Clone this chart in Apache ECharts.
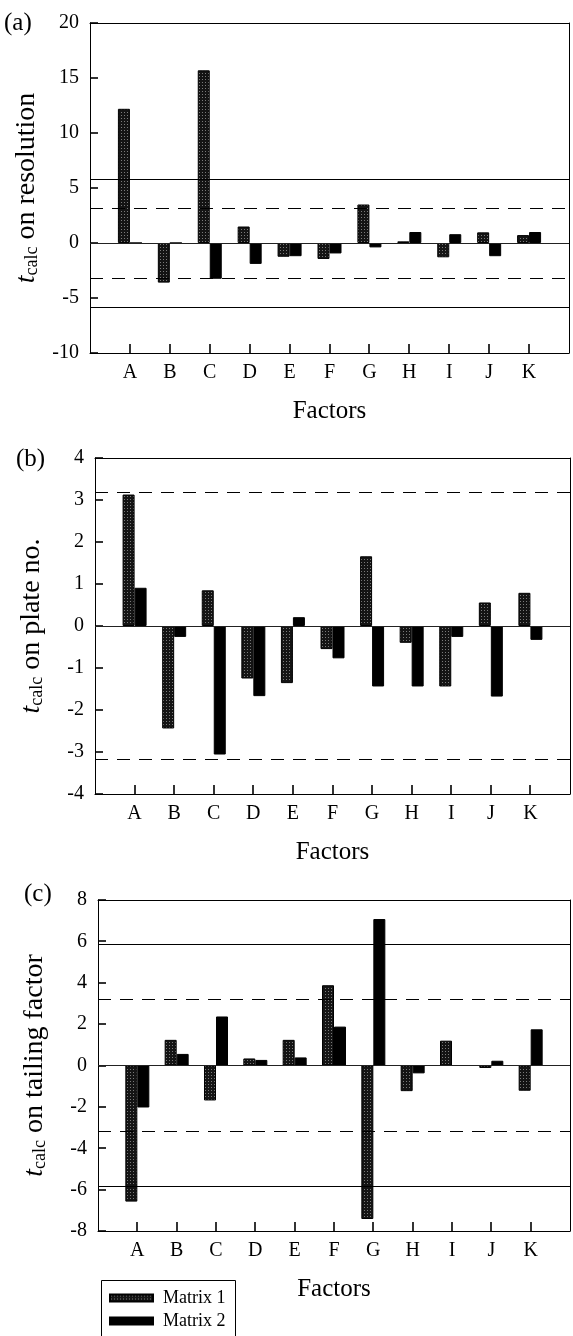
<!DOCTYPE html>
<html>
<head>
<meta charset="utf-8">
<script src="https://cdn.jsdelivr.net/npm/echarts@6/dist/echarts.min.js"></script>
<style>
  html, body { margin: 0; padding: 0; background: #fff; }
  #chart { width: 573px; height: 1336px; }
</style>
</head>
<body>
<div id="chart"></div>
<script>
// Factors studied in the robustness test
const factors = ['A', 'B', 'C', 'D', 'E', 'F', 'G', 'H', 'I', 'J', 'K'];

// t_calc on resolution
const resolutionM1 = [12.2, -3.6, 15.7, 1.5, -1.25, -1.45, 3.5, 0.15, -1.3, 0.97, 0.72];
const resolutionM2 = [0, 0, -3.25, -1.9, -1.2, -0.95, -0.4, 1.0, 0.8, -1.2, 1.0];

// t_calc on plate number
const plateM1 = [3.13, -2.44, 0.85, -1.25, -1.36, -0.55, 1.66, -0.4, -1.44, 0.56, 0.79];
const plateM2 = [0.91, -0.26, -3.06, -1.67, 0.21, -0.77, -1.44, -1.44, -0.26, -1.68, -0.33];

// t_calc on tailing factor
const tailingM1 = [-6.58, 1.24, -1.69, 0.34, 1.24, 3.88, -7.42, -1.24, 1.2, -0.12, -1.22];
const tailingM2 = [-2.03, 0.56, 2.37, 0.27, 0.39, 1.88, 7.08, -0.38, 0, 0.23, 1.75];

// Critical t values (dashed: alpha 0.05, solid: alpha 0.01)
const tCritDashed = 3.182;
const tCritSolid = 5.841;

// Y-axis ranges and tick steps per panel
const yMin = [-10, -4, -8];
const yMax = [20, 4, 8];
const yStep = [5, 1, 2];

const panelTags = ['(a)', '(b)', '(c)'];
const panelTitles = ['on resolution', 'on plate no.', 'on tailing factor'];

const FONT = '"Liberation Serif", "Times New Roman", serif';

// Stippled fill for Matrix 1 bars
function stipple() {
  const c = document.createElement('canvas');
  c.width = 3; c.height = 3;
  const g = c.getContext('2d');
  g.fillStyle = '#141414';
  g.fillRect(0, 0, 3, 3);
  g.fillStyle = '#7a7a7a';
  g.fillRect(1, 1, 1, 1);
  return c;
}
const stipplePattern = { image: stipple(), repeat: 'repeat' };

// Factor k sits at position k+1 on a 0..12 axis, leaving one empty step at each end
const toPoints = arr => arr.map((v, k) => [k + 1, v]);
const factorLabel = v => factors[v - 1] || '';
const factorPositions = factors.map((f, k) => [k + 1]);

// Value-axis tick positions of a panel
function yTickValues(i) {
  const out = [];
  for (let v = yMin[i]; v <= yMax[i] + 1e-9; v += yStep[i]) out.push([v]);
  return out;
}

const grids = [
  { left: 90, top: 23, width: 479, height: 330 },
  { left: 95, top: 458, width: 477, height: 336 },
  { left: 98, top: 900, width: 478, height: 331 }
];

const seriesData = [
  [resolutionM1, resolutionM2],
  [plateM1, plateM2],
  [tailingM1, tailingM2]
];

function refLines(i) {
  const lines = [{ yAxis: 0, lineStyle: { type: 'solid', width: 1, color: '#222' } }];
  [tCritDashed, -tCritDashed].forEach(v => {
    if (v >= yMin[i] && v <= yMax[i]) lines.push({ yAxis: v, lineStyle: { type: [13, 9], width: 1, color: '#000' } });
  });
  [tCritSolid, -tCritSolid].forEach(v => {
    if (v >= yMin[i] && v <= yMax[i]) lines.push({ yAxis: v, lineStyle: { type: 'solid', width: 1, color: '#000' } });
  });
  return lines;
}

const lineOnly = {
  axisLine: { show: true, onZero: false, lineStyle: { color: '#000', width: 1 } },
  axisTick: { show: false },
  axisLabel: { show: false },
  splitLine: { show: false }
};

const xAxes = [];
const yAxes = [];
grids.forEach((g, i) => {
  // bottom factor axis
  xAxes.push({
    type: 'value',
    gridIndex: i,
    position: 'bottom',
    min: 0,
    max: factors.length + 1,
    interval: 1,
    axisLine: { show: true, onZero: false, lineStyle: { color: '#000', width: 1 } },
    axisTick: { show: false },
    axisLabel: { formatter: factorLabel, color: '#000', fontFamily: FONT, fontSize: 20, margin: 10 },
    splitLine: { show: false },
    name: 'Factors',
    nameLocation: 'middle',
    nameGap: 46,
    nameTextStyle: { color: '#000', fontFamily: FONT, fontSize: 25 }
  });
  // top edge of the frame
  xAxes.push(Object.assign({ type: 'value', gridIndex: i, position: 'top', min: 0, max: factors.length + 1 }, lineOnly));

  // left value axis
  yAxes.push({
    type: 'value',
    gridIndex: i,
    position: 'left',
    min: yMin[i],
    max: yMax[i],
    interval: yStep[i],
    axisLine: { show: true, onZero: false, lineStyle: { color: '#000', width: 1 } },
    axisTick: { show: false },
    axisLabel: { color: '#000', fontFamily: FONT, fontSize: 20, margin: 11 },
    splitLine: { show: false },
    name: '{it|t}{sub|calc}{n| ' + panelTitles[i] + '}',
    nameLocation: 'middle',
    nameGap: 48,
    nameTextStyle: {
      color: '#000',
      rich: {
        it: { fontFamily: FONT, fontStyle: 'italic', fontSize: 28, lineHeight: 30, color: '#000' },
        sub: { fontFamily: FONT, fontSize: 18, lineHeight: 18, padding: [10, 0, 0, 0], color: '#000' },
        n: { fontFamily: FONT, fontSize: 28, lineHeight: 30, color: '#000' }
      }
    }
  });
  // right edge of the frame
  yAxes.push(Object.assign({ type: 'value', gridIndex: i, position: 'right', min: yMin[i], max: yMax[i] }, lineOnly));
});

const series = [];
seriesData.forEach((pair, i) => {
  series.push({
    name: 'Matrix 1',
    type: 'bar',
    xAxisIndex: 2 * i, yAxisIndex: 2 * i,
    data: toPoints(pair[0]),
    barWidth: 12,
    barGap: '0%',
    itemStyle: { color: stipplePattern, borderColor: '#000', borderWidth: 1 },
    markLine: {
      silent: true,
      symbol: ['none', 'none'],
      label: { show: false },
      animation: false,
      data: refLines(i)
    },
    z: 3
  });
  series.push({
    name: 'Matrix 2',
    type: 'bar',
    xAxisIndex: 2 * i, yAxisIndex: 2 * i,
    data: toPoints(pair[1]),
    barWidth: 12,
    barGap: '0%',
    itemStyle: { color: '#000', borderColor: '#000', borderWidth: 1 },
    z: 3
  });
  // inward tick marks on the factor axis
  series.push({
    type: 'custom',
    xAxisIndex: 2 * i, yAxisIndex: 2 * i,
    silent: true,
    clip: false,
    z: 4,
    data: factorPositions,
    encode: { x: 0 },
    renderItem: (params, api) => {
      const p = api.coord([api.value(0), yMin[i]]);
      const x = Math.round(p[0]);
      return { type: 'line', shape: { x1: x, y1: p[1], x2: x, y2: p[1] - 9 }, style: { stroke: '#000', lineWidth: 1.6 } };
    }
  });
  // inward tick marks on the value axis
  series.push({
    type: 'custom',
    xAxisIndex: 2 * i, yAxisIndex: 2 * i,
    silent: true,
    clip: false,
    z: 4,
    data: yTickValues(i),
    encode: { y: 0 },
    renderItem: (params, api) => {
      const p = api.coord([0, api.value(0)]);
      const y = Math.round(p[1]);
      return { type: 'line', shape: { x1: p[0], y1: y, x2: p[0] + 8, y2: y }, style: { stroke: '#000', lineWidth: 1.6 } };
    }
  });
});

const tagPos = [[4, 11], [16, 447], [24, 882]];

const option = {
  animation: false,
  backgroundColor: '#fff',
  grid: grids,
  xAxis: xAxes,
  yAxis: yAxes,
  series: series,
  legend: {
    data: ['Matrix 1', 'Matrix 2'],
    orient: 'vertical',
    left: 99,
    top: 1278,
    padding: [11, 10, 0, 10],
    itemGap: 5,
    itemWidth: 43,
    itemHeight: 7,
    icon: 'rect',
    selectedMode: false,
    textStyle: { color: '#000', fontFamily: FONT, fontSize: 18, padding: [0, 0, 0, 5] }
  },
  graphic: panelTags.map((t, i) => ({
    type: 'text',
    left: tagPos[i][0],
    top: tagPos[i][1],
    style: { text: t, fill: '#000', font: '25px ' + FONT }
  })).concat([{
    // frame around the legend, running off the bottom edge
    type: 'rect',
    left: 99,
    top: 1278,
    shape: { width: 134, height: 80 },
    style: { fill: 'none', stroke: '#000', lineWidth: 1 }
  }])
};

const chart = echarts.init(document.getElementById('chart'), null, { renderer: 'canvas' });
chart.setOption(option);
</script>
</body>
</html>
